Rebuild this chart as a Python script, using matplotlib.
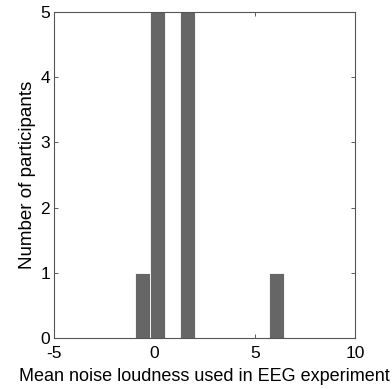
import matplotlib
matplotlib.use("Agg")
import matplotlib.pyplot as plt
import numpy as np

plt.rcParams['font.family'] = ['Liberation Sans', 'DejaVu Sans']
plt.rcParams['axes.unicode_minus'] = False

# Histogram of mean noise loudness: 10 equal bins between the min and max value
bin_centers = [-0.61, 0.14, 0.88, 1.63, 2.37, 3.12, 3.86, 4.61, 5.35, 6.10]
counts = [1, 5, 0, 5, 0, 0, 0, 0, 0, 1]
bin_width = 0.745

x_ticks = [-5, 0, 5, 10]
y_ticks = [0, 1, 2, 3, 4, 5]

fig = plt.figure(figsize=(3.92, 3.89), dpi=100)
ax = fig.add_axes([0.138, 0.131, 0.768, 0.838])

ax.bar(bin_centers, counts, width=bin_width, color='#666666',
       edgecolor='white', linewidth=0.6, zorder=2)

ax.set_xlim(-5, 10)
ax.set_ylim(0, 5)
ax.set_xticks(x_ticks)
ax.set_yticks(y_ticks)
ax.tick_params(direction='in', length=3, width=0.6, top=True, right=True,
               labelsize=12.5, colors='#444444', labelcolor='black')
ax.tick_params(axis='x', pad=5.5)
ax.tick_params(axis='y', pad=3)
for s in ax.spines.values():
    s.set_color('#555555')
    s.set_linewidth(0.8)

ax.set_xlabel('Mean noise loudness used in EEG experiment', fontsize=13, labelpad=5)
ax.set_ylabel('Number of participants', fontsize=13.5, labelpad=3)

fig.savefig('out.png', dpi=100)
